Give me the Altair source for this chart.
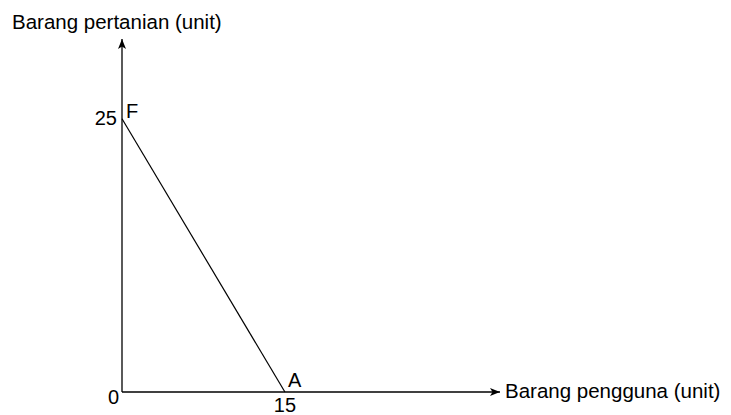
import altair as alt
import pandas as pd

# Data
line_x = [0, 15]
line_y = [25, 0]
x_max = 34.8
y_max = 32.3

FONT = "Liberation Sans"
FS = 20
FS_TITLE = 20.5

X = alt.Scale(domain=[0, x_max], nice=False, zero=False)
Y = alt.Scale(domain=[0, y_max], nice=False, zero=False)

W = 378
H = 353

ppf = pd.DataFrame({"x": line_x, "y": line_y})

yaxis = alt.Chart(pd.DataFrame({"x": [0], "y": [0], "y2": [y_max]})).mark_rule(color="black", strokeWidth=1.3).encode(
    x=alt.X("x:Q", scale=X, axis=None), y=alt.Y("y:Q", scale=Y, axis=None), y2="y2:Q")
xaxis = alt.Chart(pd.DataFrame({"x": [0], "x2": [x_max], "y": [0]})).mark_rule(color="black", strokeWidth=1.3).encode(
    x=alt.X("x:Q", scale=X, axis=None), x2="x2:Q", y=alt.Y("y:Q", scale=Y, axis=None))

up_arrow = alt.Chart(pd.DataFrame({"x": [0], "y": [y_max]})).mark_point(
    shape="M0,0L0.8,2L0,1.5L-0.8,2Z", filled=True, color="black", size=100, opacity=1).encode(
    x=alt.X("x:Q", scale=X, axis=None), y=alt.Y("y:Q", scale=Y, axis=None))
right_arrow = alt.Chart(pd.DataFrame({"x": [x_max], "y": [0]})).mark_point(
    shape="M0,0L-2,-0.8L-1.5,0L-2,0.8Z", filled=True, color="black", size=100, opacity=1).encode(
    x=alt.X("x:Q", scale=X, axis=None), y=alt.Y("y:Q", scale=Y, axis=None))

ppf_line = alt.Chart(ppf).mark_line(color="black", strokeWidth=1.2).encode(
    x=alt.X("x:Q", scale=X, axis=None), y=alt.Y("y:Q", scale=Y, axis=None))

def label(df, fs=FS, **kw):
    return alt.Chart(pd.DataFrame(df)).mark_text(font=FONT, fontSize=fs, color="black",
                                                 baseline="alphabetic", **kw).encode(
        x=alt.X("x:Q", scale=X, axis=None), y=alt.Y("y:Q", scale=Y, axis=None), text="t:N")

tick_labels = [
    label({"x": [0], "y": [0], "t": ["0"]}, align="right", dx=-3, dy=12),
    label({"x": [0], "y": [25], "t": ["25"]}, align="right", dx=-5, dy=6),
    label({"x": [15], "y": [0], "t": ["15"]}, align="center", dy=20),
    label({"x": [0], "y": [25], "t": ["F"]}, align="left", dx=4, dy=-1),
    label({"x": [15], "y": [0], "t": ["A"]}, align="left", dx=3, dy=-5),
    label({"x": [x_max], "y": [0], "t": ["Barang pengguna (unit)"]}, fs=FS_TITLE, align="left", dx=5, dy=6),
    label({"x": [0], "y": [y_max], "t": ["Barang pertanian (unit)"]}, fs=FS_TITLE, align="left", dx=-110, dy=-10),
]

chart = alt.layer(yaxis, xaxis, ppf_line, up_arrow, right_arrow, *tick_labels).properties(
    width=W, height=H,
    background="white",
    autosize=alt.AutoSizeParams(type="none"),
    padding={"left": 114, "top": 31, "right": 223, "bottom": 23},
).configure_view(stroke="transparent", strokeWidth=0)

chart.save("out.html", embed_options={"renderer": "svg", "actions": False})
